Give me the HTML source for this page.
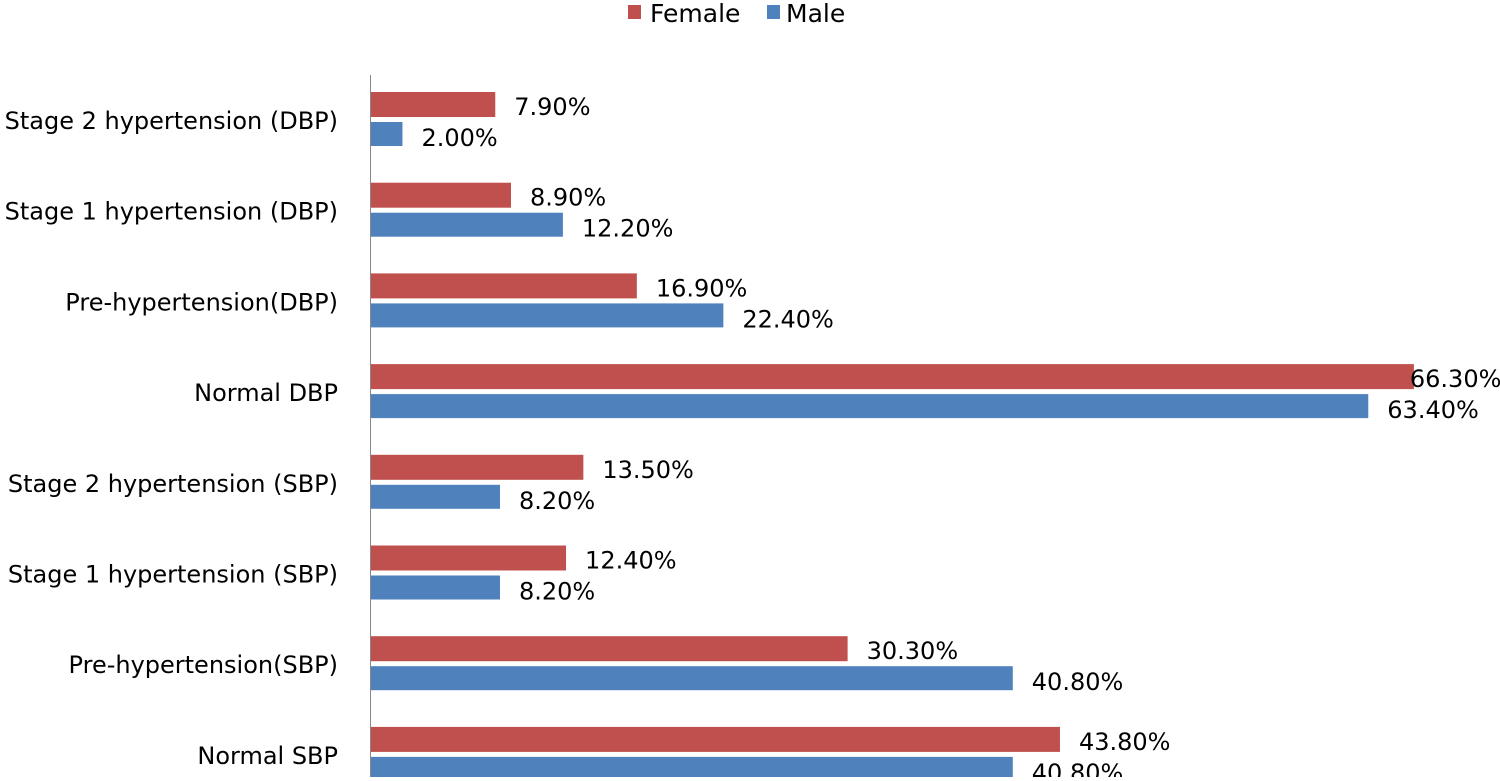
<!DOCTYPE html>
<html><head><style>
body{margin:0;background:#fff;width:1500px;height:777px;overflow:hidden;font-family:"DejaVu Sans","Liberation Sans",sans-serif;}
</style></head><body>
<svg width="1500" height="777" xmlns="http://www.w3.org/2000/svg" font-family="DejaVu Sans, Liberation Sans, sans-serif" font-size="24" fill="#000">
<rect x="628" y="5" width="13" height="14" fill="#C0504D"/>
<text x="650" y="22" font-size="25">Female</text>
<rect x="767" y="5" width="13" height="14" fill="#4F81BD"/>
<text x="786" y="22" font-size="25">Male</text>
<line x1="370.5" y1="75" x2="370.5" y2="777" stroke="#888" stroke-width="1"/>
<g id="bars"></g>
</svg>
<script>
var d=[["Stage 2 hypertension (DBP)",7.9,2.0,"7.90%","2.00%"],["Stage 1 hypertension (DBP)",8.9,12.2,"8.90%","12.20%"],["Pre-hypertension(DBP)",16.9,22.4,"16.90%","22.40%"],["Normal DBP",66.3,63.4,"66.30%","63.40%"],["Stage 2 hypertension (SBP)",13.5,8.2,"13.50%","8.20%"],["Stage 1 hypertension (SBP)",12.4,8.2,"12.40%","8.20%"],["Pre-hypertension(SBP)",30.3,40.8,"30.30%","40.80%"],["Normal SBP",43.8,40.8,"43.80%","40.80%"]];
var s="",k=15.73;
d.forEach(function(r,i){var y=92+90.7*i;var fw=r[1]*k,mw=r[2]*k;
s+='<rect x="371" y="'+y+'" width="'+fw+'" height="25" fill="#C0504D"/>';
s+='<rect x="371" y="'+(y+30)+'" width="'+mw+'" height="24" fill="#4F81BD"/>';
var fx=371+fw+(r[1]>60?-4:19);
s+='<text x="'+fx+'" y="'+(y+23)+'">'+r[3]+'</text>';
s+='<text x="'+(371+mw+19)+'" y="'+(y+54)+'">'+r[4]+'</text>';
s+='<text x="338" y="'+(y+37)+'" text-anchor="end">'+r[0]+'</text>';});
document.getElementById("bars").innerHTML=s;
</script>
</body></html>
